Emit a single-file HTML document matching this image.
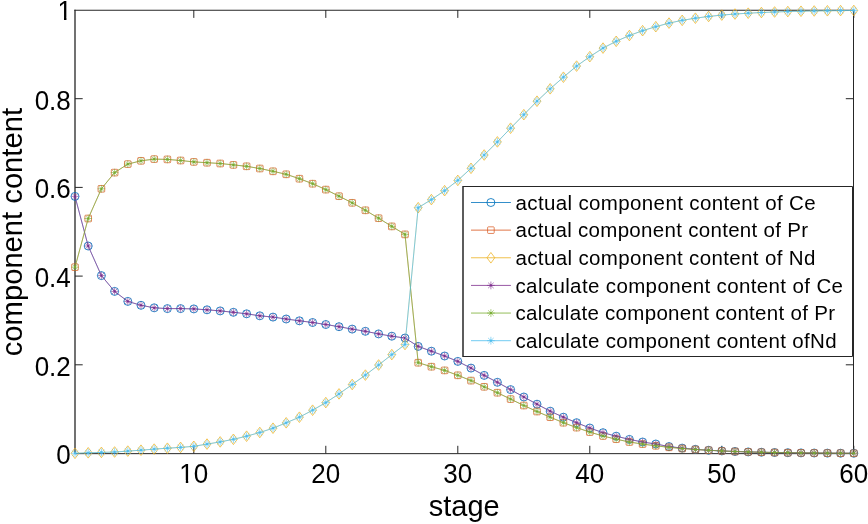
<!DOCTYPE html><html><head><meta charset="utf-8"><style>html,body{margin:0;padding:0;background:#fff;}svg{display:block;}</style></head><body><svg width="868" height="524" viewBox="0 0 868 524">
<rect width="868" height="524" fill="#fff"/>
<g stroke="#262626" stroke-width="1" fill="none">
<path d="M75 453.65H854M853.5 10V454"/>
<path d="M74.35 10.2H854" stroke-width="1.1"/>
<path d="M75 9.65V454" stroke-width="1.3"/>
<path d="M193.80 453.5V445.8M193.80 10V17.9"/>
<path d="M325.80 453.5V445.8M325.80 10V17.9"/>
<path d="M457.80 453.5V445.8M457.80 10V17.9"/>
<path d="M589.80 453.5V445.8M589.80 10V17.9"/>
<path d="M721.80 453.5V445.8M721.80 10V17.9"/>
<path d="M853.80 453.5V445.8M853.80 10V17.9"/>
<path d="M75 364.80H82.7M853.5 364.80H845.8"/>
<path d="M75 276.10H82.7M853.5 276.10H845.8"/>
<path d="M75 187.40H82.7M853.5 187.40H845.8"/>
<path d="M75 98.70H82.7M853.5 98.70H845.8"/>
</g>
<g style="filter:opacity(1)"><g font-family="Liberation Sans, sans-serif" font-size="26" fill="#000">
<text transform="translate(70.80 464.40) scale(1 1.05)" text-anchor="end">0</text>
<text transform="translate(70.80 375.70) scale(1 1.05)" text-anchor="end">0.2</text>
<text transform="translate(70.80 287.00) scale(1 1.05)" text-anchor="end">0.4</text>
<text transform="translate(70.80 198.30) scale(1 1.05)" text-anchor="end">0.6</text>
<text transform="translate(70.80 109.60) scale(1 1.05)" text-anchor="end">0.8</text>
<clipPath id="c1" clipPathUnits="userSpaceOnUse"><rect x="52.54" y="-19.80" width="24.46" height="37.66"/><rect x="64.03" y="16.86" width="2.40" height="5.04"/><rect x="71.50" y="-19.80" width="40" height="45"/></clipPath>
<g clip-path="url(#c1)"><text transform="translate(72.00 20.20) scale(1 1.05)" text-anchor="end">1</text></g>
<clipPath id="c10" clipPathUnits="userSpaceOnUse"><rect x="174.34" y="442.50" width="24.46" height="37.66"/><rect x="185.83" y="479.16" width="2.40" height="5.04"/><rect x="193.30" y="442.50" width="40" height="45"/></clipPath>
<g clip-path="url(#c10)"><text transform="translate(193.80 482.5) scale(1 1.05)" text-anchor="middle">10</text></g>
<text transform="translate(325.80 482.5) scale(1 1.05)" text-anchor="middle">20</text>
<text transform="translate(457.80 482.5) scale(1 1.05)" text-anchor="middle">30</text>
<text transform="translate(589.80 482.5) scale(1 1.05)" text-anchor="middle">40</text>
<text transform="translate(721.80 482.5) scale(1 1.05)" text-anchor="middle">50</text>
<text transform="translate(853.80 482.5) scale(1 1.05)" text-anchor="middle">60</text>
</g>
<text transform="translate(464.2 515.8) scale(1 1.035)" text-anchor="middle" font-family="Liberation Sans, sans-serif" font-size="29" fill="#000">stage</text>
<text transform="translate(21.5 232.1) rotate(-90)" text-anchor="middle" font-family="Liberation Sans, sans-serif" font-size="29.2" fill="#000">component content</text></g>
<polyline points="75.00,196.40 88.20,246.00 101.40,275.60 114.60,291.40 127.80,301.40 141.00,305.30 154.20,307.80 167.40,308.60 180.60,308.60 193.80,308.90 207.00,309.80 220.20,310.90 233.40,312.30 246.60,313.80 259.80,315.80 273.00,317.10 286.20,319.00 299.40,320.80 312.60,322.50 325.80,324.50 339.00,326.70 352.20,329.10 365.40,331.30 378.60,333.90 391.80,336.20 405.00,338.00 418.20,346.40 431.40,351.20 444.60,356.00 457.80,361.40 471.00,368.10 484.20,375.40 497.40,382.30 510.60,389.60 523.80,397.00 537.00,404.20 550.20,411.20 563.40,417.20 576.60,422.70 589.80,428.00 603.00,432.70 616.20,436.20 629.40,439.40 642.60,442.00 655.80,444.00 669.00,446.55 682.20,448.12 695.40,449.33 708.60,450.27 721.80,450.95 735.00,451.48 748.20,451.91 761.40,452.24 774.60,452.51 787.80,452.71 801.00,452.88 814.20,453.01 827.40,453.11 840.60,453.19 853.80,453.26" fill="none" stroke="#0072BD" stroke-width="0.5" stroke-opacity="0.75"/>
<circle cx="75.00" cy="196.40" r="4.0" fill="none" stroke="#0072BD" stroke-width="0.85"/>
<circle cx="88.20" cy="246.00" r="4.0" fill="none" stroke="#0072BD" stroke-width="0.85"/>
<circle cx="101.40" cy="275.60" r="4.0" fill="none" stroke="#0072BD" stroke-width="0.85"/>
<circle cx="114.60" cy="291.40" r="4.0" fill="none" stroke="#0072BD" stroke-width="0.85"/>
<circle cx="127.80" cy="301.40" r="4.0" fill="none" stroke="#0072BD" stroke-width="0.85"/>
<circle cx="141.00" cy="305.30" r="4.0" fill="none" stroke="#0072BD" stroke-width="0.85"/>
<circle cx="154.20" cy="307.80" r="4.0" fill="none" stroke="#0072BD" stroke-width="0.85"/>
<circle cx="167.40" cy="308.60" r="4.0" fill="none" stroke="#0072BD" stroke-width="0.85"/>
<circle cx="180.60" cy="308.60" r="4.0" fill="none" stroke="#0072BD" stroke-width="0.85"/>
<circle cx="193.80" cy="308.90" r="4.0" fill="none" stroke="#0072BD" stroke-width="0.85"/>
<circle cx="207.00" cy="309.80" r="4.0" fill="none" stroke="#0072BD" stroke-width="0.85"/>
<circle cx="220.20" cy="310.90" r="4.0" fill="none" stroke="#0072BD" stroke-width="0.85"/>
<circle cx="233.40" cy="312.30" r="4.0" fill="none" stroke="#0072BD" stroke-width="0.85"/>
<circle cx="246.60" cy="313.80" r="4.0" fill="none" stroke="#0072BD" stroke-width="0.85"/>
<circle cx="259.80" cy="315.80" r="4.0" fill="none" stroke="#0072BD" stroke-width="0.85"/>
<circle cx="273.00" cy="317.10" r="4.0" fill="none" stroke="#0072BD" stroke-width="0.85"/>
<circle cx="286.20" cy="319.00" r="4.0" fill="none" stroke="#0072BD" stroke-width="0.85"/>
<circle cx="299.40" cy="320.80" r="4.0" fill="none" stroke="#0072BD" stroke-width="0.85"/>
<circle cx="312.60" cy="322.50" r="4.0" fill="none" stroke="#0072BD" stroke-width="0.85"/>
<circle cx="325.80" cy="324.50" r="4.0" fill="none" stroke="#0072BD" stroke-width="0.85"/>
<circle cx="339.00" cy="326.70" r="4.0" fill="none" stroke="#0072BD" stroke-width="0.85"/>
<circle cx="352.20" cy="329.10" r="4.0" fill="none" stroke="#0072BD" stroke-width="0.85"/>
<circle cx="365.40" cy="331.30" r="4.0" fill="none" stroke="#0072BD" stroke-width="0.85"/>
<circle cx="378.60" cy="333.90" r="4.0" fill="none" stroke="#0072BD" stroke-width="0.85"/>
<circle cx="391.80" cy="336.20" r="4.0" fill="none" stroke="#0072BD" stroke-width="0.85"/>
<circle cx="405.00" cy="338.00" r="4.0" fill="none" stroke="#0072BD" stroke-width="0.85"/>
<circle cx="418.20" cy="346.40" r="4.0" fill="none" stroke="#0072BD" stroke-width="0.85"/>
<circle cx="431.40" cy="351.20" r="4.0" fill="none" stroke="#0072BD" stroke-width="0.85"/>
<circle cx="444.60" cy="356.00" r="4.0" fill="none" stroke="#0072BD" stroke-width="0.85"/>
<circle cx="457.80" cy="361.40" r="4.0" fill="none" stroke="#0072BD" stroke-width="0.85"/>
<circle cx="471.00" cy="368.10" r="4.0" fill="none" stroke="#0072BD" stroke-width="0.85"/>
<circle cx="484.20" cy="375.40" r="4.0" fill="none" stroke="#0072BD" stroke-width="0.85"/>
<circle cx="497.40" cy="382.30" r="4.0" fill="none" stroke="#0072BD" stroke-width="0.85"/>
<circle cx="510.60" cy="389.60" r="4.0" fill="none" stroke="#0072BD" stroke-width="0.85"/>
<circle cx="523.80" cy="397.00" r="4.0" fill="none" stroke="#0072BD" stroke-width="0.85"/>
<circle cx="537.00" cy="404.20" r="4.0" fill="none" stroke="#0072BD" stroke-width="0.85"/>
<circle cx="550.20" cy="411.20" r="4.0" fill="none" stroke="#0072BD" stroke-width="0.85"/>
<circle cx="563.40" cy="417.20" r="4.0" fill="none" stroke="#0072BD" stroke-width="0.85"/>
<circle cx="576.60" cy="422.70" r="4.0" fill="none" stroke="#0072BD" stroke-width="0.85"/>
<circle cx="589.80" cy="428.00" r="4.0" fill="none" stroke="#0072BD" stroke-width="0.85"/>
<circle cx="603.00" cy="432.70" r="4.0" fill="none" stroke="#0072BD" stroke-width="0.85"/>
<circle cx="616.20" cy="436.20" r="4.0" fill="none" stroke="#0072BD" stroke-width="0.85"/>
<circle cx="629.40" cy="439.40" r="4.0" fill="none" stroke="#0072BD" stroke-width="0.85"/>
<circle cx="642.60" cy="442.00" r="4.0" fill="none" stroke="#0072BD" stroke-width="0.85"/>
<circle cx="655.80" cy="444.00" r="4.0" fill="none" stroke="#0072BD" stroke-width="0.85"/>
<circle cx="669.00" cy="446.55" r="4.0" fill="none" stroke="#0072BD" stroke-width="0.85"/>
<circle cx="682.20" cy="448.12" r="4.0" fill="none" stroke="#0072BD" stroke-width="0.85"/>
<circle cx="695.40" cy="449.33" r="4.0" fill="none" stroke="#0072BD" stroke-width="0.85"/>
<circle cx="708.60" cy="450.27" r="4.0" fill="none" stroke="#0072BD" stroke-width="0.85"/>
<circle cx="721.80" cy="450.95" r="4.0" fill="none" stroke="#0072BD" stroke-width="0.85"/>
<circle cx="735.00" cy="451.48" r="4.0" fill="none" stroke="#0072BD" stroke-width="0.85"/>
<circle cx="748.20" cy="451.91" r="4.0" fill="none" stroke="#0072BD" stroke-width="0.85"/>
<circle cx="761.40" cy="452.24" r="4.0" fill="none" stroke="#0072BD" stroke-width="0.85"/>
<circle cx="774.60" cy="452.51" r="4.0" fill="none" stroke="#0072BD" stroke-width="0.85"/>
<circle cx="787.80" cy="452.71" r="4.0" fill="none" stroke="#0072BD" stroke-width="0.85"/>
<circle cx="801.00" cy="452.88" r="4.0" fill="none" stroke="#0072BD" stroke-width="0.85"/>
<circle cx="814.20" cy="453.01" r="4.0" fill="none" stroke="#0072BD" stroke-width="0.85"/>
<circle cx="827.40" cy="453.11" r="4.0" fill="none" stroke="#0072BD" stroke-width="0.85"/>
<circle cx="840.60" cy="453.19" r="4.0" fill="none" stroke="#0072BD" stroke-width="0.85"/>
<circle cx="853.80" cy="453.26" r="4.0" fill="none" stroke="#0072BD" stroke-width="0.85"/>
<polyline points="75.00,267.20 88.20,218.50 101.40,188.80 114.60,172.60 127.80,164.10 141.00,160.80 154.20,159.10 167.40,159.40 180.60,160.50 193.80,161.90 207.00,162.70 220.20,163.50 233.40,164.90 246.60,166.30 259.80,168.50 273.00,171.30 286.20,174.30 299.40,178.70 312.60,183.70 325.80,189.60 339.00,196.20 352.20,202.80 365.40,210.30 378.60,218.20 391.80,226.40 405.00,234.40 418.20,362.70 431.40,366.70 444.60,370.40 457.80,375.30 471.00,380.60 484.20,386.80 497.40,392.70 510.60,399.10 523.80,405.50 537.00,411.50 550.20,417.20 563.40,422.70 576.60,427.60 589.80,432.10 603.00,436.00 616.20,439.20 629.40,442.00 642.60,444.10 655.80,445.80 669.00,447.34 682.20,448.53 695.40,449.49 708.60,450.27 721.80,450.95 735.00,451.48 748.20,451.91 761.40,452.24 774.60,452.51 787.80,452.71 801.00,452.88 814.20,453.01 827.40,453.11 840.60,453.19 853.80,453.26" fill="none" stroke="#D95319" stroke-width="0.5" stroke-opacity="0.75"/>
<rect x="71.70" y="263.90" width="6.6" height="6.6" rx="0.8" fill="none" stroke="#D95319" stroke-width="0.7"/>
<rect x="84.90" y="215.20" width="6.6" height="6.6" rx="0.8" fill="none" stroke="#D95319" stroke-width="0.7"/>
<rect x="98.10" y="185.50" width="6.6" height="6.6" rx="0.8" fill="none" stroke="#D95319" stroke-width="0.7"/>
<rect x="111.30" y="169.30" width="6.6" height="6.6" rx="0.8" fill="none" stroke="#D95319" stroke-width="0.7"/>
<rect x="124.50" y="160.80" width="6.6" height="6.6" rx="0.8" fill="none" stroke="#D95319" stroke-width="0.7"/>
<rect x="137.70" y="157.50" width="6.6" height="6.6" rx="0.8" fill="none" stroke="#D95319" stroke-width="0.7"/>
<rect x="150.90" y="155.80" width="6.6" height="6.6" rx="0.8" fill="none" stroke="#D95319" stroke-width="0.7"/>
<rect x="164.10" y="156.10" width="6.6" height="6.6" rx="0.8" fill="none" stroke="#D95319" stroke-width="0.7"/>
<rect x="177.30" y="157.20" width="6.6" height="6.6" rx="0.8" fill="none" stroke="#D95319" stroke-width="0.7"/>
<rect x="190.50" y="158.60" width="6.6" height="6.6" rx="0.8" fill="none" stroke="#D95319" stroke-width="0.7"/>
<rect x="203.70" y="159.40" width="6.6" height="6.6" rx="0.8" fill="none" stroke="#D95319" stroke-width="0.7"/>
<rect x="216.90" y="160.20" width="6.6" height="6.6" rx="0.8" fill="none" stroke="#D95319" stroke-width="0.7"/>
<rect x="230.10" y="161.60" width="6.6" height="6.6" rx="0.8" fill="none" stroke="#D95319" stroke-width="0.7"/>
<rect x="243.30" y="163.00" width="6.6" height="6.6" rx="0.8" fill="none" stroke="#D95319" stroke-width="0.7"/>
<rect x="256.50" y="165.20" width="6.6" height="6.6" rx="0.8" fill="none" stroke="#D95319" stroke-width="0.7"/>
<rect x="269.70" y="168.00" width="6.6" height="6.6" rx="0.8" fill="none" stroke="#D95319" stroke-width="0.7"/>
<rect x="282.90" y="171.00" width="6.6" height="6.6" rx="0.8" fill="none" stroke="#D95319" stroke-width="0.7"/>
<rect x="296.10" y="175.40" width="6.6" height="6.6" rx="0.8" fill="none" stroke="#D95319" stroke-width="0.7"/>
<rect x="309.30" y="180.40" width="6.6" height="6.6" rx="0.8" fill="none" stroke="#D95319" stroke-width="0.7"/>
<rect x="322.50" y="186.30" width="6.6" height="6.6" rx="0.8" fill="none" stroke="#D95319" stroke-width="0.7"/>
<rect x="335.70" y="192.90" width="6.6" height="6.6" rx="0.8" fill="none" stroke="#D95319" stroke-width="0.7"/>
<rect x="348.90" y="199.50" width="6.6" height="6.6" rx="0.8" fill="none" stroke="#D95319" stroke-width="0.7"/>
<rect x="362.10" y="207.00" width="6.6" height="6.6" rx="0.8" fill="none" stroke="#D95319" stroke-width="0.7"/>
<rect x="375.30" y="214.90" width="6.6" height="6.6" rx="0.8" fill="none" stroke="#D95319" stroke-width="0.7"/>
<rect x="388.50" y="223.10" width="6.6" height="6.6" rx="0.8" fill="none" stroke="#D95319" stroke-width="0.7"/>
<rect x="401.70" y="231.10" width="6.6" height="6.6" rx="0.8" fill="none" stroke="#D95319" stroke-width="0.7"/>
<rect x="414.90" y="359.40" width="6.6" height="6.6" rx="0.8" fill="none" stroke="#D95319" stroke-width="0.7"/>
<rect x="428.10" y="363.40" width="6.6" height="6.6" rx="0.8" fill="none" stroke="#D95319" stroke-width="0.7"/>
<rect x="441.30" y="367.10" width="6.6" height="6.6" rx="0.8" fill="none" stroke="#D95319" stroke-width="0.7"/>
<rect x="454.50" y="372.00" width="6.6" height="6.6" rx="0.8" fill="none" stroke="#D95319" stroke-width="0.7"/>
<rect x="467.70" y="377.30" width="6.6" height="6.6" rx="0.8" fill="none" stroke="#D95319" stroke-width="0.7"/>
<rect x="480.90" y="383.50" width="6.6" height="6.6" rx="0.8" fill="none" stroke="#D95319" stroke-width="0.7"/>
<rect x="494.10" y="389.40" width="6.6" height="6.6" rx="0.8" fill="none" stroke="#D95319" stroke-width="0.7"/>
<rect x="507.30" y="395.80" width="6.6" height="6.6" rx="0.8" fill="none" stroke="#D95319" stroke-width="0.7"/>
<rect x="520.50" y="402.20" width="6.6" height="6.6" rx="0.8" fill="none" stroke="#D95319" stroke-width="0.7"/>
<rect x="533.70" y="408.20" width="6.6" height="6.6" rx="0.8" fill="none" stroke="#D95319" stroke-width="0.7"/>
<rect x="546.90" y="413.90" width="6.6" height="6.6" rx="0.8" fill="none" stroke="#D95319" stroke-width="0.7"/>
<rect x="560.10" y="419.40" width="6.6" height="6.6" rx="0.8" fill="none" stroke="#D95319" stroke-width="0.7"/>
<rect x="573.30" y="424.30" width="6.6" height="6.6" rx="0.8" fill="none" stroke="#D95319" stroke-width="0.7"/>
<rect x="586.50" y="428.80" width="6.6" height="6.6" rx="0.8" fill="none" stroke="#D95319" stroke-width="0.7"/>
<rect x="599.70" y="432.70" width="6.6" height="6.6" rx="0.8" fill="none" stroke="#D95319" stroke-width="0.7"/>
<rect x="612.90" y="435.90" width="6.6" height="6.6" rx="0.8" fill="none" stroke="#D95319" stroke-width="0.7"/>
<rect x="626.10" y="438.70" width="6.6" height="6.6" rx="0.8" fill="none" stroke="#D95319" stroke-width="0.7"/>
<rect x="639.30" y="440.80" width="6.6" height="6.6" rx="0.8" fill="none" stroke="#D95319" stroke-width="0.7"/>
<rect x="652.50" y="442.50" width="6.6" height="6.6" rx="0.8" fill="none" stroke="#D95319" stroke-width="0.7"/>
<rect x="665.70" y="444.04" width="6.6" height="6.6" rx="0.8" fill="none" stroke="#D95319" stroke-width="0.7"/>
<rect x="678.90" y="445.23" width="6.6" height="6.6" rx="0.8" fill="none" stroke="#D95319" stroke-width="0.7"/>
<rect x="692.10" y="446.19" width="6.6" height="6.6" rx="0.8" fill="none" stroke="#D95319" stroke-width="0.7"/>
<rect x="705.30" y="446.97" width="6.6" height="6.6" rx="0.8" fill="none" stroke="#D95319" stroke-width="0.7"/>
<rect x="718.50" y="447.65" width="6.6" height="6.6" rx="0.8" fill="none" stroke="#D95319" stroke-width="0.7"/>
<rect x="731.70" y="448.18" width="6.6" height="6.6" rx="0.8" fill="none" stroke="#D95319" stroke-width="0.7"/>
<rect x="744.90" y="448.61" width="6.6" height="6.6" rx="0.8" fill="none" stroke="#D95319" stroke-width="0.7"/>
<rect x="758.10" y="448.94" width="6.6" height="6.6" rx="0.8" fill="none" stroke="#D95319" stroke-width="0.7"/>
<rect x="771.30" y="449.21" width="6.6" height="6.6" rx="0.8" fill="none" stroke="#D95319" stroke-width="0.7"/>
<rect x="784.50" y="449.41" width="6.6" height="6.6" rx="0.8" fill="none" stroke="#D95319" stroke-width="0.7"/>
<rect x="797.70" y="449.58" width="6.6" height="6.6" rx="0.8" fill="none" stroke="#D95319" stroke-width="0.7"/>
<rect x="810.90" y="449.71" width="6.6" height="6.6" rx="0.8" fill="none" stroke="#D95319" stroke-width="0.7"/>
<rect x="824.10" y="449.81" width="6.6" height="6.6" rx="0.8" fill="none" stroke="#D95319" stroke-width="0.7"/>
<rect x="837.30" y="449.89" width="6.6" height="6.6" rx="0.8" fill="none" stroke="#D95319" stroke-width="0.7"/>
<rect x="850.50" y="449.96" width="6.6" height="6.6" rx="0.8" fill="none" stroke="#D95319" stroke-width="0.7"/>
<polyline points="75.00,453.30 88.20,452.80 101.40,452.40 114.60,452.00 127.80,451.10 141.00,450.20 154.20,449.10 167.40,448.20 180.60,447.40 193.80,446.30 207.00,444.10 220.20,441.90 233.40,439.30 246.60,436.20 259.80,432.50 273.00,428.20 286.20,422.80 299.40,417.20 312.60,410.20 325.80,402.60 339.00,393.90 352.20,384.50 365.40,375.10 378.60,365.00 391.80,354.60 405.00,344.50 418.20,207.70 431.40,199.60 444.60,190.70 457.80,180.40 471.00,168.30 484.20,155.00 497.40,141.90 510.60,128.20 523.80,114.70 537.00,101.20 550.20,88.80 563.40,77.20 576.60,66.10 589.80,56.70 603.00,48.10 616.20,41.30 629.40,35.50 642.60,30.70 655.80,26.70 669.00,23.11 682.20,20.35 695.40,18.18 708.60,16.46 721.80,15.10 735.00,14.03 748.20,13.19 761.40,12.52 774.60,11.99 787.80,11.57 801.00,11.24 814.20,10.98 827.40,10.77 840.60,10.61 853.80,10.48" fill="none" stroke="#EDB120" stroke-width="0.5" stroke-opacity="0.75"/>
<path d="M75.00 448.00L78.90 453.30L75.00 458.60L71.10 453.30Z" fill="none" stroke="#EDB120" stroke-width="0.75"/>
<path d="M88.20 447.50L92.10 452.80L88.20 458.10L84.30 452.80Z" fill="none" stroke="#EDB120" stroke-width="0.75"/>
<path d="M101.40 447.10L105.30 452.40L101.40 457.70L97.50 452.40Z" fill="none" stroke="#EDB120" stroke-width="0.75"/>
<path d="M114.60 446.70L118.50 452.00L114.60 457.30L110.70 452.00Z" fill="none" stroke="#EDB120" stroke-width="0.75"/>
<path d="M127.80 445.80L131.70 451.10L127.80 456.40L123.90 451.10Z" fill="none" stroke="#EDB120" stroke-width="0.75"/>
<path d="M141.00 444.90L144.90 450.20L141.00 455.50L137.10 450.20Z" fill="none" stroke="#EDB120" stroke-width="0.75"/>
<path d="M154.20 443.80L158.10 449.10L154.20 454.40L150.30 449.10Z" fill="none" stroke="#EDB120" stroke-width="0.75"/>
<path d="M167.40 442.90L171.30 448.20L167.40 453.50L163.50 448.20Z" fill="none" stroke="#EDB120" stroke-width="0.75"/>
<path d="M180.60 442.10L184.50 447.40L180.60 452.70L176.70 447.40Z" fill="none" stroke="#EDB120" stroke-width="0.75"/>
<path d="M193.80 441.00L197.70 446.30L193.80 451.60L189.90 446.30Z" fill="none" stroke="#EDB120" stroke-width="0.75"/>
<path d="M207.00 438.80L210.90 444.10L207.00 449.40L203.10 444.10Z" fill="none" stroke="#EDB120" stroke-width="0.75"/>
<path d="M220.20 436.60L224.10 441.90L220.20 447.20L216.30 441.90Z" fill="none" stroke="#EDB120" stroke-width="0.75"/>
<path d="M233.40 434.00L237.30 439.30L233.40 444.60L229.50 439.30Z" fill="none" stroke="#EDB120" stroke-width="0.75"/>
<path d="M246.60 430.90L250.50 436.20L246.60 441.50L242.70 436.20Z" fill="none" stroke="#EDB120" stroke-width="0.75"/>
<path d="M259.80 427.20L263.70 432.50L259.80 437.80L255.90 432.50Z" fill="none" stroke="#EDB120" stroke-width="0.75"/>
<path d="M273.00 422.90L276.90 428.20L273.00 433.50L269.10 428.20Z" fill="none" stroke="#EDB120" stroke-width="0.75"/>
<path d="M286.20 417.50L290.10 422.80L286.20 428.10L282.30 422.80Z" fill="none" stroke="#EDB120" stroke-width="0.75"/>
<path d="M299.40 411.90L303.30 417.20L299.40 422.50L295.50 417.20Z" fill="none" stroke="#EDB120" stroke-width="0.75"/>
<path d="M312.60 404.90L316.50 410.20L312.60 415.50L308.70 410.20Z" fill="none" stroke="#EDB120" stroke-width="0.75"/>
<path d="M325.80 397.30L329.70 402.60L325.80 407.90L321.90 402.60Z" fill="none" stroke="#EDB120" stroke-width="0.75"/>
<path d="M339.00 388.60L342.90 393.90L339.00 399.20L335.10 393.90Z" fill="none" stroke="#EDB120" stroke-width="0.75"/>
<path d="M352.20 379.20L356.10 384.50L352.20 389.80L348.30 384.50Z" fill="none" stroke="#EDB120" stroke-width="0.75"/>
<path d="M365.40 369.80L369.30 375.10L365.40 380.40L361.50 375.10Z" fill="none" stroke="#EDB120" stroke-width="0.75"/>
<path d="M378.60 359.70L382.50 365.00L378.60 370.30L374.70 365.00Z" fill="none" stroke="#EDB120" stroke-width="0.75"/>
<path d="M391.80 349.30L395.70 354.60L391.80 359.90L387.90 354.60Z" fill="none" stroke="#EDB120" stroke-width="0.75"/>
<path d="M405.00 339.20L408.90 344.50L405.00 349.80L401.10 344.50Z" fill="none" stroke="#EDB120" stroke-width="0.75"/>
<path d="M418.20 202.40L422.10 207.70L418.20 213.00L414.30 207.70Z" fill="none" stroke="#EDB120" stroke-width="0.75"/>
<path d="M431.40 194.30L435.30 199.60L431.40 204.90L427.50 199.60Z" fill="none" stroke="#EDB120" stroke-width="0.75"/>
<path d="M444.60 185.40L448.50 190.70L444.60 196.00L440.70 190.70Z" fill="none" stroke="#EDB120" stroke-width="0.75"/>
<path d="M457.80 175.10L461.70 180.40L457.80 185.70L453.90 180.40Z" fill="none" stroke="#EDB120" stroke-width="0.75"/>
<path d="M471.00 163.00L474.90 168.30L471.00 173.60L467.10 168.30Z" fill="none" stroke="#EDB120" stroke-width="0.75"/>
<path d="M484.20 149.70L488.10 155.00L484.20 160.30L480.30 155.00Z" fill="none" stroke="#EDB120" stroke-width="0.75"/>
<path d="M497.40 136.60L501.30 141.90L497.40 147.20L493.50 141.90Z" fill="none" stroke="#EDB120" stroke-width="0.75"/>
<path d="M510.60 122.90L514.50 128.20L510.60 133.50L506.70 128.20Z" fill="none" stroke="#EDB120" stroke-width="0.75"/>
<path d="M523.80 109.40L527.70 114.70L523.80 120.00L519.90 114.70Z" fill="none" stroke="#EDB120" stroke-width="0.75"/>
<path d="M537.00 95.90L540.90 101.20L537.00 106.50L533.10 101.20Z" fill="none" stroke="#EDB120" stroke-width="0.75"/>
<path d="M550.20 83.50L554.10 88.80L550.20 94.10L546.30 88.80Z" fill="none" stroke="#EDB120" stroke-width="0.75"/>
<path d="M563.40 71.90L567.30 77.20L563.40 82.50L559.50 77.20Z" fill="none" stroke="#EDB120" stroke-width="0.75"/>
<path d="M576.60 60.80L580.50 66.10L576.60 71.40L572.70 66.10Z" fill="none" stroke="#EDB120" stroke-width="0.75"/>
<path d="M589.80 51.40L593.70 56.70L589.80 62.00L585.90 56.70Z" fill="none" stroke="#EDB120" stroke-width="0.75"/>
<path d="M603.00 42.80L606.90 48.10L603.00 53.40L599.10 48.10Z" fill="none" stroke="#EDB120" stroke-width="0.75"/>
<path d="M616.20 36.00L620.10 41.30L616.20 46.60L612.30 41.30Z" fill="none" stroke="#EDB120" stroke-width="0.75"/>
<path d="M629.40 30.20L633.30 35.50L629.40 40.80L625.50 35.50Z" fill="none" stroke="#EDB120" stroke-width="0.75"/>
<path d="M642.60 25.40L646.50 30.70L642.60 36.00L638.70 30.70Z" fill="none" stroke="#EDB120" stroke-width="0.75"/>
<path d="M655.80 21.40L659.70 26.70L655.80 32.00L651.90 26.70Z" fill="none" stroke="#EDB120" stroke-width="0.75"/>
<path d="M669.00 17.81L672.90 23.11L669.00 28.41L665.10 23.11Z" fill="none" stroke="#EDB120" stroke-width="0.75"/>
<path d="M682.20 15.05L686.10 20.35L682.20 25.65L678.30 20.35Z" fill="none" stroke="#EDB120" stroke-width="0.75"/>
<path d="M695.40 12.88L699.30 18.18L695.40 23.48L691.50 18.18Z" fill="none" stroke="#EDB120" stroke-width="0.75"/>
<path d="M708.60 11.16L712.50 16.46L708.60 21.76L704.70 16.46Z" fill="none" stroke="#EDB120" stroke-width="0.75"/>
<path d="M721.80 9.80L725.70 15.10L721.80 20.40L717.90 15.10Z" fill="none" stroke="#EDB120" stroke-width="0.75"/>
<path d="M735.00 8.73L738.90 14.03L735.00 19.33L731.10 14.03Z" fill="none" stroke="#EDB120" stroke-width="0.75"/>
<path d="M748.20 7.89L752.10 13.19L748.20 18.49L744.30 13.19Z" fill="none" stroke="#EDB120" stroke-width="0.75"/>
<path d="M761.40 7.22L765.30 12.52L761.40 17.82L757.50 12.52Z" fill="none" stroke="#EDB120" stroke-width="0.75"/>
<path d="M774.60 6.69L778.50 11.99L774.60 17.29L770.70 11.99Z" fill="none" stroke="#EDB120" stroke-width="0.75"/>
<path d="M787.80 6.27L791.70 11.57L787.80 16.87L783.90 11.57Z" fill="none" stroke="#EDB120" stroke-width="0.75"/>
<path d="M801.00 5.94L804.90 11.24L801.00 16.54L797.10 11.24Z" fill="none" stroke="#EDB120" stroke-width="0.75"/>
<path d="M814.20 5.68L818.10 10.98L814.20 16.28L810.30 10.98Z" fill="none" stroke="#EDB120" stroke-width="0.75"/>
<path d="M827.40 5.47L831.30 10.77L827.40 16.07L823.50 10.77Z" fill="none" stroke="#EDB120" stroke-width="0.75"/>
<path d="M840.60 5.31L844.50 10.61L840.60 15.91L836.70 10.61Z" fill="none" stroke="#EDB120" stroke-width="0.75"/>
<path d="M853.80 5.18L857.70 10.48L853.80 15.78L849.90 10.48Z" fill="none" stroke="#EDB120" stroke-width="0.75"/>
<polyline points="75.00,196.40 88.20,246.00 101.40,275.60 114.60,291.40 127.80,301.40 141.00,305.30 154.20,307.80 167.40,308.60 180.60,308.60 193.80,308.90 207.00,309.80 220.20,310.90 233.40,312.30 246.60,313.80 259.80,315.80 273.00,317.10 286.20,319.00 299.40,320.80 312.60,322.50 325.80,324.50 339.00,326.70 352.20,329.10 365.40,331.30 378.60,333.90 391.80,336.20 405.00,338.00 418.20,346.40 431.40,351.20 444.60,356.00 457.80,361.40 471.00,368.10 484.20,375.40 497.40,382.30 510.60,389.60 523.80,397.00 537.00,404.20 550.20,411.20 563.40,417.20 576.60,422.70 589.80,428.00 603.00,432.70 616.20,436.20 629.40,439.40 642.60,442.00 655.80,444.00 669.00,446.55 682.20,448.12 695.40,449.33 708.60,450.27 721.80,450.95 735.00,451.48 748.20,451.91 761.40,452.24 774.60,452.51 787.80,452.71 801.00,452.88 814.20,453.01 827.40,453.11 840.60,453.19 853.80,453.26" fill="none" stroke="#7E2F8E" stroke-width="0.7"/>
<path d="M71.10 196.40H78.90M75.00 192.50V200.30M72.24 193.64L77.76 199.16M72.24 199.16L77.76 193.64" stroke="#7E2F8E" stroke-width="0.6" fill="none"/><circle cx="75.00" cy="196.40" r="1.1" fill="#7E2F8E"/>
<path d="M84.30 246.00H92.10M88.20 242.10V249.90M85.44 243.24L90.96 248.76M85.44 248.76L90.96 243.24" stroke="#7E2F8E" stroke-width="0.6" fill="none"/><circle cx="88.20" cy="246.00" r="1.1" fill="#7E2F8E"/>
<path d="M97.50 275.60H105.30M101.40 271.70V279.50M98.64 272.84L104.16 278.36M98.64 278.36L104.16 272.84" stroke="#7E2F8E" stroke-width="0.6" fill="none"/><circle cx="101.40" cy="275.60" r="1.1" fill="#7E2F8E"/>
<path d="M110.70 291.40H118.50M114.60 287.50V295.30M111.84 288.64L117.36 294.16M111.84 294.16L117.36 288.64" stroke="#7E2F8E" stroke-width="0.6" fill="none"/><circle cx="114.60" cy="291.40" r="1.1" fill="#7E2F8E"/>
<path d="M123.90 301.40H131.70M127.80 297.50V305.30M125.04 298.64L130.56 304.16M125.04 304.16L130.56 298.64" stroke="#7E2F8E" stroke-width="0.6" fill="none"/><circle cx="127.80" cy="301.40" r="1.1" fill="#7E2F8E"/>
<path d="M137.10 305.30H144.90M141.00 301.40V309.20M138.24 302.54L143.76 308.06M138.24 308.06L143.76 302.54" stroke="#7E2F8E" stroke-width="0.6" fill="none"/><circle cx="141.00" cy="305.30" r="1.1" fill="#7E2F8E"/>
<path d="M150.30 307.80H158.10M154.20 303.90V311.70M151.44 305.04L156.96 310.56M151.44 310.56L156.96 305.04" stroke="#7E2F8E" stroke-width="0.6" fill="none"/><circle cx="154.20" cy="307.80" r="1.1" fill="#7E2F8E"/>
<path d="M163.50 308.60H171.30M167.40 304.70V312.50M164.64 305.84L170.16 311.36M164.64 311.36L170.16 305.84" stroke="#7E2F8E" stroke-width="0.6" fill="none"/><circle cx="167.40" cy="308.60" r="1.1" fill="#7E2F8E"/>
<path d="M176.70 308.60H184.50M180.60 304.70V312.50M177.84 305.84L183.36 311.36M177.84 311.36L183.36 305.84" stroke="#7E2F8E" stroke-width="0.6" fill="none"/><circle cx="180.60" cy="308.60" r="1.1" fill="#7E2F8E"/>
<path d="M189.90 308.90H197.70M193.80 305.00V312.80M191.04 306.14L196.56 311.66M191.04 311.66L196.56 306.14" stroke="#7E2F8E" stroke-width="0.6" fill="none"/><circle cx="193.80" cy="308.90" r="1.1" fill="#7E2F8E"/>
<path d="M203.10 309.80H210.90M207.00 305.90V313.70M204.24 307.04L209.76 312.56M204.24 312.56L209.76 307.04" stroke="#7E2F8E" stroke-width="0.6" fill="none"/><circle cx="207.00" cy="309.80" r="1.1" fill="#7E2F8E"/>
<path d="M216.30 310.90H224.10M220.20 307.00V314.80M217.44 308.14L222.96 313.66M217.44 313.66L222.96 308.14" stroke="#7E2F8E" stroke-width="0.6" fill="none"/><circle cx="220.20" cy="310.90" r="1.1" fill="#7E2F8E"/>
<path d="M229.50 312.30H237.30M233.40 308.40V316.20M230.64 309.54L236.16 315.06M230.64 315.06L236.16 309.54" stroke="#7E2F8E" stroke-width="0.6" fill="none"/><circle cx="233.40" cy="312.30" r="1.1" fill="#7E2F8E"/>
<path d="M242.70 313.80H250.50M246.60 309.90V317.70M243.84 311.04L249.36 316.56M243.84 316.56L249.36 311.04" stroke="#7E2F8E" stroke-width="0.6" fill="none"/><circle cx="246.60" cy="313.80" r="1.1" fill="#7E2F8E"/>
<path d="M255.90 315.80H263.70M259.80 311.90V319.70M257.04 313.04L262.56 318.56M257.04 318.56L262.56 313.04" stroke="#7E2F8E" stroke-width="0.6" fill="none"/><circle cx="259.80" cy="315.80" r="1.1" fill="#7E2F8E"/>
<path d="M269.10 317.10H276.90M273.00 313.20V321.00M270.24 314.34L275.76 319.86M270.24 319.86L275.76 314.34" stroke="#7E2F8E" stroke-width="0.6" fill="none"/><circle cx="273.00" cy="317.10" r="1.1" fill="#7E2F8E"/>
<path d="M282.30 319.00H290.10M286.20 315.10V322.90M283.44 316.24L288.96 321.76M283.44 321.76L288.96 316.24" stroke="#7E2F8E" stroke-width="0.6" fill="none"/><circle cx="286.20" cy="319.00" r="1.1" fill="#7E2F8E"/>
<path d="M295.50 320.80H303.30M299.40 316.90V324.70M296.64 318.04L302.16 323.56M296.64 323.56L302.16 318.04" stroke="#7E2F8E" stroke-width="0.6" fill="none"/><circle cx="299.40" cy="320.80" r="1.1" fill="#7E2F8E"/>
<path d="M308.70 322.50H316.50M312.60 318.60V326.40M309.84 319.74L315.36 325.26M309.84 325.26L315.36 319.74" stroke="#7E2F8E" stroke-width="0.6" fill="none"/><circle cx="312.60" cy="322.50" r="1.1" fill="#7E2F8E"/>
<path d="M321.90 324.50H329.70M325.80 320.60V328.40M323.04 321.74L328.56 327.26M323.04 327.26L328.56 321.74" stroke="#7E2F8E" stroke-width="0.6" fill="none"/><circle cx="325.80" cy="324.50" r="1.1" fill="#7E2F8E"/>
<path d="M335.10 326.70H342.90M339.00 322.80V330.60M336.24 323.94L341.76 329.46M336.24 329.46L341.76 323.94" stroke="#7E2F8E" stroke-width="0.6" fill="none"/><circle cx="339.00" cy="326.70" r="1.1" fill="#7E2F8E"/>
<path d="M348.30 329.10H356.10M352.20 325.20V333.00M349.44 326.34L354.96 331.86M349.44 331.86L354.96 326.34" stroke="#7E2F8E" stroke-width="0.6" fill="none"/><circle cx="352.20" cy="329.10" r="1.1" fill="#7E2F8E"/>
<path d="M361.50 331.30H369.30M365.40 327.40V335.20M362.64 328.54L368.16 334.06M362.64 334.06L368.16 328.54" stroke="#7E2F8E" stroke-width="0.6" fill="none"/><circle cx="365.40" cy="331.30" r="1.1" fill="#7E2F8E"/>
<path d="M374.70 333.90H382.50M378.60 330.00V337.80M375.84 331.14L381.36 336.66M375.84 336.66L381.36 331.14" stroke="#7E2F8E" stroke-width="0.6" fill="none"/><circle cx="378.60" cy="333.90" r="1.1" fill="#7E2F8E"/>
<path d="M387.90 336.20H395.70M391.80 332.30V340.10M389.04 333.44L394.56 338.96M389.04 338.96L394.56 333.44" stroke="#7E2F8E" stroke-width="0.6" fill="none"/><circle cx="391.80" cy="336.20" r="1.1" fill="#7E2F8E"/>
<path d="M401.10 338.00H408.90M405.00 334.10V341.90M402.24 335.24L407.76 340.76M402.24 340.76L407.76 335.24" stroke="#7E2F8E" stroke-width="0.6" fill="none"/><circle cx="405.00" cy="338.00" r="1.1" fill="#7E2F8E"/>
<path d="M414.30 346.40H422.10M418.20 342.50V350.30M415.44 343.64L420.96 349.16M415.44 349.16L420.96 343.64" stroke="#7E2F8E" stroke-width="0.6" fill="none"/><circle cx="418.20" cy="346.40" r="1.1" fill="#7E2F8E"/>
<path d="M427.50 351.20H435.30M431.40 347.30V355.10M428.64 348.44L434.16 353.96M428.64 353.96L434.16 348.44" stroke="#7E2F8E" stroke-width="0.6" fill="none"/><circle cx="431.40" cy="351.20" r="1.1" fill="#7E2F8E"/>
<path d="M440.70 356.00H448.50M444.60 352.10V359.90M441.84 353.24L447.36 358.76M441.84 358.76L447.36 353.24" stroke="#7E2F8E" stroke-width="0.6" fill="none"/><circle cx="444.60" cy="356.00" r="1.1" fill="#7E2F8E"/>
<path d="M453.90 361.40H461.70M457.80 357.50V365.30M455.04 358.64L460.56 364.16M455.04 364.16L460.56 358.64" stroke="#7E2F8E" stroke-width="0.6" fill="none"/><circle cx="457.80" cy="361.40" r="1.1" fill="#7E2F8E"/>
<path d="M467.10 368.10H474.90M471.00 364.20V372.00M468.24 365.34L473.76 370.86M468.24 370.86L473.76 365.34" stroke="#7E2F8E" stroke-width="0.6" fill="none"/><circle cx="471.00" cy="368.10" r="1.1" fill="#7E2F8E"/>
<path d="M480.30 375.40H488.10M484.20 371.50V379.30M481.44 372.64L486.96 378.16M481.44 378.16L486.96 372.64" stroke="#7E2F8E" stroke-width="0.6" fill="none"/><circle cx="484.20" cy="375.40" r="1.1" fill="#7E2F8E"/>
<path d="M493.50 382.30H501.30M497.40 378.40V386.20M494.64 379.54L500.16 385.06M494.64 385.06L500.16 379.54" stroke="#7E2F8E" stroke-width="0.6" fill="none"/><circle cx="497.40" cy="382.30" r="1.1" fill="#7E2F8E"/>
<path d="M506.70 389.60H514.50M510.60 385.70V393.50M507.84 386.84L513.36 392.36M507.84 392.36L513.36 386.84" stroke="#7E2F8E" stroke-width="0.6" fill="none"/><circle cx="510.60" cy="389.60" r="1.1" fill="#7E2F8E"/>
<path d="M519.90 397.00H527.70M523.80 393.10V400.90M521.04 394.24L526.56 399.76M521.04 399.76L526.56 394.24" stroke="#7E2F8E" stroke-width="0.6" fill="none"/><circle cx="523.80" cy="397.00" r="1.1" fill="#7E2F8E"/>
<path d="M533.10 404.20H540.90M537.00 400.30V408.10M534.24 401.44L539.76 406.96M534.24 406.96L539.76 401.44" stroke="#7E2F8E" stroke-width="0.6" fill="none"/><circle cx="537.00" cy="404.20" r="1.1" fill="#7E2F8E"/>
<path d="M546.30 411.20H554.10M550.20 407.30V415.10M547.44 408.44L552.96 413.96M547.44 413.96L552.96 408.44" stroke="#7E2F8E" stroke-width="0.6" fill="none"/><circle cx="550.20" cy="411.20" r="1.1" fill="#7E2F8E"/>
<path d="M559.50 417.20H567.30M563.40 413.30V421.10M560.64 414.44L566.16 419.96M560.64 419.96L566.16 414.44" stroke="#7E2F8E" stroke-width="0.6" fill="none"/><circle cx="563.40" cy="417.20" r="1.1" fill="#7E2F8E"/>
<path d="M572.70 422.70H580.50M576.60 418.80V426.60M573.84 419.94L579.36 425.46M573.84 425.46L579.36 419.94" stroke="#7E2F8E" stroke-width="0.6" fill="none"/><circle cx="576.60" cy="422.70" r="1.1" fill="#7E2F8E"/>
<path d="M585.90 428.00H593.70M589.80 424.10V431.90M587.04 425.24L592.56 430.76M587.04 430.76L592.56 425.24" stroke="#7E2F8E" stroke-width="0.6" fill="none"/><circle cx="589.80" cy="428.00" r="1.1" fill="#7E2F8E"/>
<path d="M599.10 432.70H606.90M603.00 428.80V436.60M600.24 429.94L605.76 435.46M600.24 435.46L605.76 429.94" stroke="#7E2F8E" stroke-width="0.6" fill="none"/><circle cx="603.00" cy="432.70" r="1.1" fill="#7E2F8E"/>
<path d="M612.30 436.20H620.10M616.20 432.30V440.10M613.44 433.44L618.96 438.96M613.44 438.96L618.96 433.44" stroke="#7E2F8E" stroke-width="0.6" fill="none"/><circle cx="616.20" cy="436.20" r="1.1" fill="#7E2F8E"/>
<path d="M625.50 439.40H633.30M629.40 435.50V443.30M626.64 436.64L632.16 442.16M626.64 442.16L632.16 436.64" stroke="#7E2F8E" stroke-width="0.6" fill="none"/><circle cx="629.40" cy="439.40" r="1.1" fill="#7E2F8E"/>
<path d="M638.70 442.00H646.50M642.60 438.10V445.90M639.84 439.24L645.36 444.76M639.84 444.76L645.36 439.24" stroke="#7E2F8E" stroke-width="0.6" fill="none"/><circle cx="642.60" cy="442.00" r="1.1" fill="#7E2F8E"/>
<path d="M651.90 444.00H659.70M655.80 440.10V447.90M653.04 441.24L658.56 446.76M653.04 446.76L658.56 441.24" stroke="#7E2F8E" stroke-width="0.6" fill="none"/><circle cx="655.80" cy="444.00" r="1.1" fill="#7E2F8E"/>
<path d="M665.10 446.55H672.90M669.00 442.65V450.45M666.24 443.80L671.76 449.31M666.24 449.31L671.76 443.80" stroke="#7E2F8E" stroke-width="0.6" fill="none"/><circle cx="669.00" cy="446.55" r="1.1" fill="#7E2F8E"/>
<path d="M678.30 448.12H686.10M682.20 444.22V452.02M679.44 445.36L684.96 450.87M679.44 450.87L684.96 445.36" stroke="#7E2F8E" stroke-width="0.6" fill="none"/><circle cx="682.20" cy="448.12" r="1.1" fill="#7E2F8E"/>
<path d="M691.50 449.33H699.30M695.40 445.43V453.23M692.64 446.57L698.16 452.09M692.64 452.09L698.16 446.57" stroke="#7E2F8E" stroke-width="0.6" fill="none"/><circle cx="695.40" cy="449.33" r="1.1" fill="#7E2F8E"/>
<path d="M704.70 450.27H712.50M708.60 446.37V454.17M705.84 447.51L711.36 453.03M705.84 453.03L711.36 447.51" stroke="#7E2F8E" stroke-width="0.6" fill="none"/><circle cx="708.60" cy="450.27" r="1.1" fill="#7E2F8E"/>
<path d="M717.90 450.95H725.70M721.80 447.05V454.85M719.04 448.19L724.56 453.71M719.04 453.71L724.56 448.19" stroke="#7E2F8E" stroke-width="0.6" fill="none"/><circle cx="721.80" cy="450.95" r="1.1" fill="#7E2F8E"/>
<path d="M731.10 451.48H738.90M735.00 447.58V455.38M732.24 448.73L737.76 454.24M732.24 454.24L737.76 448.73" stroke="#7E2F8E" stroke-width="0.6" fill="none"/><circle cx="735.00" cy="451.48" r="1.1" fill="#7E2F8E"/>
<path d="M744.30 451.91H752.10M748.20 448.01V455.81M745.44 449.15L750.96 454.66M745.44 454.66L750.96 449.15" stroke="#7E2F8E" stroke-width="0.6" fill="none"/><circle cx="748.20" cy="451.91" r="1.1" fill="#7E2F8E"/>
<path d="M757.50 452.24H765.30M761.40 448.34V456.14M758.64 449.48L764.16 455.00M758.64 455.00L764.16 449.48" stroke="#7E2F8E" stroke-width="0.6" fill="none"/><circle cx="761.40" cy="452.24" r="1.1" fill="#7E2F8E"/>
<path d="M770.70 452.51H778.50M774.60 448.61V456.41M771.84 449.75L777.36 455.26M771.84 455.26L777.36 449.75" stroke="#7E2F8E" stroke-width="0.6" fill="none"/><circle cx="774.60" cy="452.51" r="1.1" fill="#7E2F8E"/>
<path d="M783.90 452.71H791.70M787.80 448.81V456.61M785.04 449.96L790.56 455.47M785.04 455.47L790.56 449.96" stroke="#7E2F8E" stroke-width="0.6" fill="none"/><circle cx="787.80" cy="452.71" r="1.1" fill="#7E2F8E"/>
<path d="M797.10 452.88H804.90M801.00 448.98V456.78M798.24 450.12L803.76 455.64M798.24 455.64L803.76 450.12" stroke="#7E2F8E" stroke-width="0.6" fill="none"/><circle cx="801.00" cy="452.88" r="1.1" fill="#7E2F8E"/>
<path d="M810.30 453.01H818.10M814.20 449.11V456.91M811.44 450.25L816.96 455.77M811.44 455.77L816.96 450.25" stroke="#7E2F8E" stroke-width="0.6" fill="none"/><circle cx="814.20" cy="453.01" r="1.1" fill="#7E2F8E"/>
<path d="M823.50 453.11H831.30M827.40 449.21V457.01M824.64 450.36L830.16 455.87M824.64 455.87L830.16 450.36" stroke="#7E2F8E" stroke-width="0.6" fill="none"/><circle cx="827.40" cy="453.11" r="1.1" fill="#7E2F8E"/>
<path d="M836.70 453.19H844.50M840.60 449.29V457.09M837.84 450.44L843.36 455.95M837.84 455.95L843.36 450.44" stroke="#7E2F8E" stroke-width="0.6" fill="none"/><circle cx="840.60" cy="453.19" r="1.1" fill="#7E2F8E"/>
<path d="M849.90 453.26H857.70M853.80 449.36V457.16M851.04 450.50L856.56 456.02M851.04 456.02L856.56 450.50" stroke="#7E2F8E" stroke-width="0.6" fill="none"/><circle cx="853.80" cy="453.26" r="1.1" fill="#7E2F8E"/>
<polyline points="75.00,267.20 88.20,218.50 101.40,188.80 114.60,172.60 127.80,164.10 141.00,160.80 154.20,159.10 167.40,159.40 180.60,160.50 193.80,161.90 207.00,162.70 220.20,163.50 233.40,164.90 246.60,166.30 259.80,168.50 273.00,171.30 286.20,174.30 299.40,178.70 312.60,183.70 325.80,189.60 339.00,196.20 352.20,202.80 365.40,210.30 378.60,218.20 391.80,226.40 405.00,234.40 418.20,362.70 431.40,366.70 444.60,370.40 457.80,375.30 471.00,380.60 484.20,386.80 497.40,392.70 510.60,399.10 523.80,405.50 537.00,411.50 550.20,417.20 563.40,422.70 576.60,427.60 589.80,432.10 603.00,436.00 616.20,439.20 629.40,442.00 642.60,444.10 655.80,445.80 669.00,447.34 682.20,448.53 695.40,449.49 708.60,450.27 721.80,450.95 735.00,451.48 748.20,451.91 761.40,452.24 774.60,452.51 787.80,452.71 801.00,452.88 814.20,453.01 827.40,453.11 840.60,453.19 853.80,453.26" fill="none" stroke="#77AC30" stroke-width="0.7"/>
<path d="M71.10 267.20H78.90M75.00 263.30V271.10M72.24 264.44L77.76 269.96M72.24 269.96L77.76 264.44" stroke="#77AC30" stroke-width="0.6" fill="none"/><circle cx="75.00" cy="267.20" r="1.1" fill="#77AC30"/>
<path d="M84.30 218.50H92.10M88.20 214.60V222.40M85.44 215.74L90.96 221.26M85.44 221.26L90.96 215.74" stroke="#77AC30" stroke-width="0.6" fill="none"/><circle cx="88.20" cy="218.50" r="1.1" fill="#77AC30"/>
<path d="M97.50 188.80H105.30M101.40 184.90V192.70M98.64 186.04L104.16 191.56M98.64 191.56L104.16 186.04" stroke="#77AC30" stroke-width="0.6" fill="none"/><circle cx="101.40" cy="188.80" r="1.1" fill="#77AC30"/>
<path d="M110.70 172.60H118.50M114.60 168.70V176.50M111.84 169.84L117.36 175.36M111.84 175.36L117.36 169.84" stroke="#77AC30" stroke-width="0.6" fill="none"/><circle cx="114.60" cy="172.60" r="1.1" fill="#77AC30"/>
<path d="M123.90 164.10H131.70M127.80 160.20V168.00M125.04 161.34L130.56 166.86M125.04 166.86L130.56 161.34" stroke="#77AC30" stroke-width="0.6" fill="none"/><circle cx="127.80" cy="164.10" r="1.1" fill="#77AC30"/>
<path d="M137.10 160.80H144.90M141.00 156.90V164.70M138.24 158.04L143.76 163.56M138.24 163.56L143.76 158.04" stroke="#77AC30" stroke-width="0.6" fill="none"/><circle cx="141.00" cy="160.80" r="1.1" fill="#77AC30"/>
<path d="M150.30 159.10H158.10M154.20 155.20V163.00M151.44 156.34L156.96 161.86M151.44 161.86L156.96 156.34" stroke="#77AC30" stroke-width="0.6" fill="none"/><circle cx="154.20" cy="159.10" r="1.1" fill="#77AC30"/>
<path d="M163.50 159.40H171.30M167.40 155.50V163.30M164.64 156.64L170.16 162.16M164.64 162.16L170.16 156.64" stroke="#77AC30" stroke-width="0.6" fill="none"/><circle cx="167.40" cy="159.40" r="1.1" fill="#77AC30"/>
<path d="M176.70 160.50H184.50M180.60 156.60V164.40M177.84 157.74L183.36 163.26M177.84 163.26L183.36 157.74" stroke="#77AC30" stroke-width="0.6" fill="none"/><circle cx="180.60" cy="160.50" r="1.1" fill="#77AC30"/>
<path d="M189.90 161.90H197.70M193.80 158.00V165.80M191.04 159.14L196.56 164.66M191.04 164.66L196.56 159.14" stroke="#77AC30" stroke-width="0.6" fill="none"/><circle cx="193.80" cy="161.90" r="1.1" fill="#77AC30"/>
<path d="M203.10 162.70H210.90M207.00 158.80V166.60M204.24 159.94L209.76 165.46M204.24 165.46L209.76 159.94" stroke="#77AC30" stroke-width="0.6" fill="none"/><circle cx="207.00" cy="162.70" r="1.1" fill="#77AC30"/>
<path d="M216.30 163.50H224.10M220.20 159.60V167.40M217.44 160.74L222.96 166.26M217.44 166.26L222.96 160.74" stroke="#77AC30" stroke-width="0.6" fill="none"/><circle cx="220.20" cy="163.50" r="1.1" fill="#77AC30"/>
<path d="M229.50 164.90H237.30M233.40 161.00V168.80M230.64 162.14L236.16 167.66M230.64 167.66L236.16 162.14" stroke="#77AC30" stroke-width="0.6" fill="none"/><circle cx="233.40" cy="164.90" r="1.1" fill="#77AC30"/>
<path d="M242.70 166.30H250.50M246.60 162.40V170.20M243.84 163.54L249.36 169.06M243.84 169.06L249.36 163.54" stroke="#77AC30" stroke-width="0.6" fill="none"/><circle cx="246.60" cy="166.30" r="1.1" fill="#77AC30"/>
<path d="M255.90 168.50H263.70M259.80 164.60V172.40M257.04 165.74L262.56 171.26M257.04 171.26L262.56 165.74" stroke="#77AC30" stroke-width="0.6" fill="none"/><circle cx="259.80" cy="168.50" r="1.1" fill="#77AC30"/>
<path d="M269.10 171.30H276.90M273.00 167.40V175.20M270.24 168.54L275.76 174.06M270.24 174.06L275.76 168.54" stroke="#77AC30" stroke-width="0.6" fill="none"/><circle cx="273.00" cy="171.30" r="1.1" fill="#77AC30"/>
<path d="M282.30 174.30H290.10M286.20 170.40V178.20M283.44 171.54L288.96 177.06M283.44 177.06L288.96 171.54" stroke="#77AC30" stroke-width="0.6" fill="none"/><circle cx="286.20" cy="174.30" r="1.1" fill="#77AC30"/>
<path d="M295.50 178.70H303.30M299.40 174.80V182.60M296.64 175.94L302.16 181.46M296.64 181.46L302.16 175.94" stroke="#77AC30" stroke-width="0.6" fill="none"/><circle cx="299.40" cy="178.70" r="1.1" fill="#77AC30"/>
<path d="M308.70 183.70H316.50M312.60 179.80V187.60M309.84 180.94L315.36 186.46M309.84 186.46L315.36 180.94" stroke="#77AC30" stroke-width="0.6" fill="none"/><circle cx="312.60" cy="183.70" r="1.1" fill="#77AC30"/>
<path d="M321.90 189.60H329.70M325.80 185.70V193.50M323.04 186.84L328.56 192.36M323.04 192.36L328.56 186.84" stroke="#77AC30" stroke-width="0.6" fill="none"/><circle cx="325.80" cy="189.60" r="1.1" fill="#77AC30"/>
<path d="M335.10 196.20H342.90M339.00 192.30V200.10M336.24 193.44L341.76 198.96M336.24 198.96L341.76 193.44" stroke="#77AC30" stroke-width="0.6" fill="none"/><circle cx="339.00" cy="196.20" r="1.1" fill="#77AC30"/>
<path d="M348.30 202.80H356.10M352.20 198.90V206.70M349.44 200.04L354.96 205.56M349.44 205.56L354.96 200.04" stroke="#77AC30" stroke-width="0.6" fill="none"/><circle cx="352.20" cy="202.80" r="1.1" fill="#77AC30"/>
<path d="M361.50 210.30H369.30M365.40 206.40V214.20M362.64 207.54L368.16 213.06M362.64 213.06L368.16 207.54" stroke="#77AC30" stroke-width="0.6" fill="none"/><circle cx="365.40" cy="210.30" r="1.1" fill="#77AC30"/>
<path d="M374.70 218.20H382.50M378.60 214.30V222.10M375.84 215.44L381.36 220.96M375.84 220.96L381.36 215.44" stroke="#77AC30" stroke-width="0.6" fill="none"/><circle cx="378.60" cy="218.20" r="1.1" fill="#77AC30"/>
<path d="M387.90 226.40H395.70M391.80 222.50V230.30M389.04 223.64L394.56 229.16M389.04 229.16L394.56 223.64" stroke="#77AC30" stroke-width="0.6" fill="none"/><circle cx="391.80" cy="226.40" r="1.1" fill="#77AC30"/>
<path d="M401.10 234.40H408.90M405.00 230.50V238.30M402.24 231.64L407.76 237.16M402.24 237.16L407.76 231.64" stroke="#77AC30" stroke-width="0.6" fill="none"/><circle cx="405.00" cy="234.40" r="1.1" fill="#77AC30"/>
<path d="M414.30 362.70H422.10M418.20 358.80V366.60M415.44 359.94L420.96 365.46M415.44 365.46L420.96 359.94" stroke="#77AC30" stroke-width="0.6" fill="none"/><circle cx="418.20" cy="362.70" r="1.1" fill="#77AC30"/>
<path d="M427.50 366.70H435.30M431.40 362.80V370.60M428.64 363.94L434.16 369.46M428.64 369.46L434.16 363.94" stroke="#77AC30" stroke-width="0.6" fill="none"/><circle cx="431.40" cy="366.70" r="1.1" fill="#77AC30"/>
<path d="M440.70 370.40H448.50M444.60 366.50V374.30M441.84 367.64L447.36 373.16M441.84 373.16L447.36 367.64" stroke="#77AC30" stroke-width="0.6" fill="none"/><circle cx="444.60" cy="370.40" r="1.1" fill="#77AC30"/>
<path d="M453.90 375.30H461.70M457.80 371.40V379.20M455.04 372.54L460.56 378.06M455.04 378.06L460.56 372.54" stroke="#77AC30" stroke-width="0.6" fill="none"/><circle cx="457.80" cy="375.30" r="1.1" fill="#77AC30"/>
<path d="M467.10 380.60H474.90M471.00 376.70V384.50M468.24 377.84L473.76 383.36M468.24 383.36L473.76 377.84" stroke="#77AC30" stroke-width="0.6" fill="none"/><circle cx="471.00" cy="380.60" r="1.1" fill="#77AC30"/>
<path d="M480.30 386.80H488.10M484.20 382.90V390.70M481.44 384.04L486.96 389.56M481.44 389.56L486.96 384.04" stroke="#77AC30" stroke-width="0.6" fill="none"/><circle cx="484.20" cy="386.80" r="1.1" fill="#77AC30"/>
<path d="M493.50 392.70H501.30M497.40 388.80V396.60M494.64 389.94L500.16 395.46M494.64 395.46L500.16 389.94" stroke="#77AC30" stroke-width="0.6" fill="none"/><circle cx="497.40" cy="392.70" r="1.1" fill="#77AC30"/>
<path d="M506.70 399.10H514.50M510.60 395.20V403.00M507.84 396.34L513.36 401.86M507.84 401.86L513.36 396.34" stroke="#77AC30" stroke-width="0.6" fill="none"/><circle cx="510.60" cy="399.10" r="1.1" fill="#77AC30"/>
<path d="M519.90 405.50H527.70M523.80 401.60V409.40M521.04 402.74L526.56 408.26M521.04 408.26L526.56 402.74" stroke="#77AC30" stroke-width="0.6" fill="none"/><circle cx="523.80" cy="405.50" r="1.1" fill="#77AC30"/>
<path d="M533.10 411.50H540.90M537.00 407.60V415.40M534.24 408.74L539.76 414.26M534.24 414.26L539.76 408.74" stroke="#77AC30" stroke-width="0.6" fill="none"/><circle cx="537.00" cy="411.50" r="1.1" fill="#77AC30"/>
<path d="M546.30 417.20H554.10M550.20 413.30V421.10M547.44 414.44L552.96 419.96M547.44 419.96L552.96 414.44" stroke="#77AC30" stroke-width="0.6" fill="none"/><circle cx="550.20" cy="417.20" r="1.1" fill="#77AC30"/>
<path d="M559.50 422.70H567.30M563.40 418.80V426.60M560.64 419.94L566.16 425.46M560.64 425.46L566.16 419.94" stroke="#77AC30" stroke-width="0.6" fill="none"/><circle cx="563.40" cy="422.70" r="1.1" fill="#77AC30"/>
<path d="M572.70 427.60H580.50M576.60 423.70V431.50M573.84 424.84L579.36 430.36M573.84 430.36L579.36 424.84" stroke="#77AC30" stroke-width="0.6" fill="none"/><circle cx="576.60" cy="427.60" r="1.1" fill="#77AC30"/>
<path d="M585.90 432.10H593.70M589.80 428.20V436.00M587.04 429.34L592.56 434.86M587.04 434.86L592.56 429.34" stroke="#77AC30" stroke-width="0.6" fill="none"/><circle cx="589.80" cy="432.10" r="1.1" fill="#77AC30"/>
<path d="M599.10 436.00H606.90M603.00 432.10V439.90M600.24 433.24L605.76 438.76M600.24 438.76L605.76 433.24" stroke="#77AC30" stroke-width="0.6" fill="none"/><circle cx="603.00" cy="436.00" r="1.1" fill="#77AC30"/>
<path d="M612.30 439.20H620.10M616.20 435.30V443.10M613.44 436.44L618.96 441.96M613.44 441.96L618.96 436.44" stroke="#77AC30" stroke-width="0.6" fill="none"/><circle cx="616.20" cy="439.20" r="1.1" fill="#77AC30"/>
<path d="M625.50 442.00H633.30M629.40 438.10V445.90M626.64 439.24L632.16 444.76M626.64 444.76L632.16 439.24" stroke="#77AC30" stroke-width="0.6" fill="none"/><circle cx="629.40" cy="442.00" r="1.1" fill="#77AC30"/>
<path d="M638.70 444.10H646.50M642.60 440.20V448.00M639.84 441.34L645.36 446.86M639.84 446.86L645.36 441.34" stroke="#77AC30" stroke-width="0.6" fill="none"/><circle cx="642.60" cy="444.10" r="1.1" fill="#77AC30"/>
<path d="M651.90 445.80H659.70M655.80 441.90V449.70M653.04 443.04L658.56 448.56M653.04 448.56L658.56 443.04" stroke="#77AC30" stroke-width="0.6" fill="none"/><circle cx="655.80" cy="445.80" r="1.1" fill="#77AC30"/>
<path d="M665.10 447.34H672.90M669.00 443.44V451.24M666.24 444.58L671.76 450.10M666.24 450.10L671.76 444.58" stroke="#77AC30" stroke-width="0.6" fill="none"/><circle cx="669.00" cy="447.34" r="1.1" fill="#77AC30"/>
<path d="M678.30 448.53H686.10M682.20 444.63V452.43M679.44 445.77L684.96 451.29M679.44 451.29L684.96 445.77" stroke="#77AC30" stroke-width="0.6" fill="none"/><circle cx="682.20" cy="448.53" r="1.1" fill="#77AC30"/>
<path d="M691.50 449.49H699.30M695.40 445.59V453.39M692.64 446.73L698.16 452.25M692.64 452.25L698.16 446.73" stroke="#77AC30" stroke-width="0.6" fill="none"/><circle cx="695.40" cy="449.49" r="1.1" fill="#77AC30"/>
<path d="M704.70 450.27H712.50M708.60 446.37V454.17M705.84 447.51L711.36 453.03M705.84 453.03L711.36 447.51" stroke="#77AC30" stroke-width="0.6" fill="none"/><circle cx="708.60" cy="450.27" r="1.1" fill="#77AC30"/>
<path d="M717.90 450.95H725.70M721.80 447.05V454.85M719.04 448.19L724.56 453.71M719.04 453.71L724.56 448.19" stroke="#77AC30" stroke-width="0.6" fill="none"/><circle cx="721.80" cy="450.95" r="1.1" fill="#77AC30"/>
<path d="M731.10 451.48H738.90M735.00 447.58V455.38M732.24 448.73L737.76 454.24M732.24 454.24L737.76 448.73" stroke="#77AC30" stroke-width="0.6" fill="none"/><circle cx="735.00" cy="451.48" r="1.1" fill="#77AC30"/>
<path d="M744.30 451.91H752.10M748.20 448.01V455.81M745.44 449.15L750.96 454.66M745.44 454.66L750.96 449.15" stroke="#77AC30" stroke-width="0.6" fill="none"/><circle cx="748.20" cy="451.91" r="1.1" fill="#77AC30"/>
<path d="M757.50 452.24H765.30M761.40 448.34V456.14M758.64 449.48L764.16 455.00M758.64 455.00L764.16 449.48" stroke="#77AC30" stroke-width="0.6" fill="none"/><circle cx="761.40" cy="452.24" r="1.1" fill="#77AC30"/>
<path d="M770.70 452.51H778.50M774.60 448.61V456.41M771.84 449.75L777.36 455.26M771.84 455.26L777.36 449.75" stroke="#77AC30" stroke-width="0.6" fill="none"/><circle cx="774.60" cy="452.51" r="1.1" fill="#77AC30"/>
<path d="M783.90 452.71H791.70M787.80 448.81V456.61M785.04 449.96L790.56 455.47M785.04 455.47L790.56 449.96" stroke="#77AC30" stroke-width="0.6" fill="none"/><circle cx="787.80" cy="452.71" r="1.1" fill="#77AC30"/>
<path d="M797.10 452.88H804.90M801.00 448.98V456.78M798.24 450.12L803.76 455.64M798.24 455.64L803.76 450.12" stroke="#77AC30" stroke-width="0.6" fill="none"/><circle cx="801.00" cy="452.88" r="1.1" fill="#77AC30"/>
<path d="M810.30 453.01H818.10M814.20 449.11V456.91M811.44 450.25L816.96 455.77M811.44 455.77L816.96 450.25" stroke="#77AC30" stroke-width="0.6" fill="none"/><circle cx="814.20" cy="453.01" r="1.1" fill="#77AC30"/>
<path d="M823.50 453.11H831.30M827.40 449.21V457.01M824.64 450.36L830.16 455.87M824.64 455.87L830.16 450.36" stroke="#77AC30" stroke-width="0.6" fill="none"/><circle cx="827.40" cy="453.11" r="1.1" fill="#77AC30"/>
<path d="M836.70 453.19H844.50M840.60 449.29V457.09M837.84 450.44L843.36 455.95M837.84 455.95L843.36 450.44" stroke="#77AC30" stroke-width="0.6" fill="none"/><circle cx="840.60" cy="453.19" r="1.1" fill="#77AC30"/>
<path d="M849.90 453.26H857.70M853.80 449.36V457.16M851.04 450.50L856.56 456.02M851.04 456.02L856.56 450.50" stroke="#77AC30" stroke-width="0.6" fill="none"/><circle cx="853.80" cy="453.26" r="1.1" fill="#77AC30"/>
<polyline points="75.00,453.30 88.20,452.80 101.40,452.40 114.60,452.00 127.80,451.10 141.00,450.20 154.20,449.10 167.40,448.20 180.60,447.40 193.80,446.30 207.00,444.10 220.20,441.90 233.40,439.30 246.60,436.20 259.80,432.50 273.00,428.20 286.20,422.80 299.40,417.20 312.60,410.20 325.80,402.60 339.00,393.90 352.20,384.50 365.40,375.10 378.60,365.00 391.80,354.60 405.00,344.50 418.20,207.70 431.40,199.60 444.60,190.70 457.80,180.40 471.00,168.30 484.20,155.00 497.40,141.90 510.60,128.20 523.80,114.70 537.00,101.20 550.20,88.80 563.40,77.20 576.60,66.10 589.80,56.70 603.00,48.10 616.20,41.30 629.40,35.50 642.60,30.70 655.80,26.70 669.00,23.11 682.20,20.35 695.40,18.18 708.60,16.46 721.80,15.10 735.00,14.03 748.20,13.19 761.40,12.52 774.60,11.99 787.80,11.57 801.00,11.24 814.20,10.98 827.40,10.77 840.60,10.61 853.80,10.48" fill="none" stroke="#4DBEEE" stroke-width="0.7"/>
<path d="M71.10 453.30H78.90M75.00 449.40V457.20M72.24 450.54L77.76 456.06M72.24 456.06L77.76 450.54" stroke="#4DBEEE" stroke-width="0.6" fill="none"/><circle cx="75.00" cy="453.30" r="1.1" fill="#4DBEEE"/>
<path d="M84.30 452.80H92.10M88.20 448.90V456.70M85.44 450.04L90.96 455.56M85.44 455.56L90.96 450.04" stroke="#4DBEEE" stroke-width="0.6" fill="none"/><circle cx="88.20" cy="452.80" r="1.1" fill="#4DBEEE"/>
<path d="M97.50 452.40H105.30M101.40 448.50V456.30M98.64 449.64L104.16 455.16M98.64 455.16L104.16 449.64" stroke="#4DBEEE" stroke-width="0.6" fill="none"/><circle cx="101.40" cy="452.40" r="1.1" fill="#4DBEEE"/>
<path d="M110.70 452.00H118.50M114.60 448.10V455.90M111.84 449.24L117.36 454.76M111.84 454.76L117.36 449.24" stroke="#4DBEEE" stroke-width="0.6" fill="none"/><circle cx="114.60" cy="452.00" r="1.1" fill="#4DBEEE"/>
<path d="M123.90 451.10H131.70M127.80 447.20V455.00M125.04 448.34L130.56 453.86M125.04 453.86L130.56 448.34" stroke="#4DBEEE" stroke-width="0.6" fill="none"/><circle cx="127.80" cy="451.10" r="1.1" fill="#4DBEEE"/>
<path d="M137.10 450.20H144.90M141.00 446.30V454.10M138.24 447.44L143.76 452.96M138.24 452.96L143.76 447.44" stroke="#4DBEEE" stroke-width="0.6" fill="none"/><circle cx="141.00" cy="450.20" r="1.1" fill="#4DBEEE"/>
<path d="M150.30 449.10H158.10M154.20 445.20V453.00M151.44 446.34L156.96 451.86M151.44 451.86L156.96 446.34" stroke="#4DBEEE" stroke-width="0.6" fill="none"/><circle cx="154.20" cy="449.10" r="1.1" fill="#4DBEEE"/>
<path d="M163.50 448.20H171.30M167.40 444.30V452.10M164.64 445.44L170.16 450.96M164.64 450.96L170.16 445.44" stroke="#4DBEEE" stroke-width="0.6" fill="none"/><circle cx="167.40" cy="448.20" r="1.1" fill="#4DBEEE"/>
<path d="M176.70 447.40H184.50M180.60 443.50V451.30M177.84 444.64L183.36 450.16M177.84 450.16L183.36 444.64" stroke="#4DBEEE" stroke-width="0.6" fill="none"/><circle cx="180.60" cy="447.40" r="1.1" fill="#4DBEEE"/>
<path d="M189.90 446.30H197.70M193.80 442.40V450.20M191.04 443.54L196.56 449.06M191.04 449.06L196.56 443.54" stroke="#4DBEEE" stroke-width="0.6" fill="none"/><circle cx="193.80" cy="446.30" r="1.1" fill="#4DBEEE"/>
<path d="M203.10 444.10H210.90M207.00 440.20V448.00M204.24 441.34L209.76 446.86M204.24 446.86L209.76 441.34" stroke="#4DBEEE" stroke-width="0.6" fill="none"/><circle cx="207.00" cy="444.10" r="1.1" fill="#4DBEEE"/>
<path d="M216.30 441.90H224.10M220.20 438.00V445.80M217.44 439.14L222.96 444.66M217.44 444.66L222.96 439.14" stroke="#4DBEEE" stroke-width="0.6" fill="none"/><circle cx="220.20" cy="441.90" r="1.1" fill="#4DBEEE"/>
<path d="M229.50 439.30H237.30M233.40 435.40V443.20M230.64 436.54L236.16 442.06M230.64 442.06L236.16 436.54" stroke="#4DBEEE" stroke-width="0.6" fill="none"/><circle cx="233.40" cy="439.30" r="1.1" fill="#4DBEEE"/>
<path d="M242.70 436.20H250.50M246.60 432.30V440.10M243.84 433.44L249.36 438.96M243.84 438.96L249.36 433.44" stroke="#4DBEEE" stroke-width="0.6" fill="none"/><circle cx="246.60" cy="436.20" r="1.1" fill="#4DBEEE"/>
<path d="M255.90 432.50H263.70M259.80 428.60V436.40M257.04 429.74L262.56 435.26M257.04 435.26L262.56 429.74" stroke="#4DBEEE" stroke-width="0.6" fill="none"/><circle cx="259.80" cy="432.50" r="1.1" fill="#4DBEEE"/>
<path d="M269.10 428.20H276.90M273.00 424.30V432.10M270.24 425.44L275.76 430.96M270.24 430.96L275.76 425.44" stroke="#4DBEEE" stroke-width="0.6" fill="none"/><circle cx="273.00" cy="428.20" r="1.1" fill="#4DBEEE"/>
<path d="M282.30 422.80H290.10M286.20 418.90V426.70M283.44 420.04L288.96 425.56M283.44 425.56L288.96 420.04" stroke="#4DBEEE" stroke-width="0.6" fill="none"/><circle cx="286.20" cy="422.80" r="1.1" fill="#4DBEEE"/>
<path d="M295.50 417.20H303.30M299.40 413.30V421.10M296.64 414.44L302.16 419.96M296.64 419.96L302.16 414.44" stroke="#4DBEEE" stroke-width="0.6" fill="none"/><circle cx="299.40" cy="417.20" r="1.1" fill="#4DBEEE"/>
<path d="M308.70 410.20H316.50M312.60 406.30V414.10M309.84 407.44L315.36 412.96M309.84 412.96L315.36 407.44" stroke="#4DBEEE" stroke-width="0.6" fill="none"/><circle cx="312.60" cy="410.20" r="1.1" fill="#4DBEEE"/>
<path d="M321.90 402.60H329.70M325.80 398.70V406.50M323.04 399.84L328.56 405.36M323.04 405.36L328.56 399.84" stroke="#4DBEEE" stroke-width="0.6" fill="none"/><circle cx="325.80" cy="402.60" r="1.1" fill="#4DBEEE"/>
<path d="M335.10 393.90H342.90M339.00 390.00V397.80M336.24 391.14L341.76 396.66M336.24 396.66L341.76 391.14" stroke="#4DBEEE" stroke-width="0.6" fill="none"/><circle cx="339.00" cy="393.90" r="1.1" fill="#4DBEEE"/>
<path d="M348.30 384.50H356.10M352.20 380.60V388.40M349.44 381.74L354.96 387.26M349.44 387.26L354.96 381.74" stroke="#4DBEEE" stroke-width="0.6" fill="none"/><circle cx="352.20" cy="384.50" r="1.1" fill="#4DBEEE"/>
<path d="M361.50 375.10H369.30M365.40 371.20V379.00M362.64 372.34L368.16 377.86M362.64 377.86L368.16 372.34" stroke="#4DBEEE" stroke-width="0.6" fill="none"/><circle cx="365.40" cy="375.10" r="1.1" fill="#4DBEEE"/>
<path d="M374.70 365.00H382.50M378.60 361.10V368.90M375.84 362.24L381.36 367.76M375.84 367.76L381.36 362.24" stroke="#4DBEEE" stroke-width="0.6" fill="none"/><circle cx="378.60" cy="365.00" r="1.1" fill="#4DBEEE"/>
<path d="M387.90 354.60H395.70M391.80 350.70V358.50M389.04 351.84L394.56 357.36M389.04 357.36L394.56 351.84" stroke="#4DBEEE" stroke-width="0.6" fill="none"/><circle cx="391.80" cy="354.60" r="1.1" fill="#4DBEEE"/>
<path d="M401.10 344.50H408.90M405.00 340.60V348.40M402.24 341.74L407.76 347.26M402.24 347.26L407.76 341.74" stroke="#4DBEEE" stroke-width="0.6" fill="none"/><circle cx="405.00" cy="344.50" r="1.1" fill="#4DBEEE"/>
<path d="M414.30 207.70H422.10M418.20 203.80V211.60M415.44 204.94L420.96 210.46M415.44 210.46L420.96 204.94" stroke="#4DBEEE" stroke-width="0.6" fill="none"/><circle cx="418.20" cy="207.70" r="1.1" fill="#4DBEEE"/>
<path d="M427.50 199.60H435.30M431.40 195.70V203.50M428.64 196.84L434.16 202.36M428.64 202.36L434.16 196.84" stroke="#4DBEEE" stroke-width="0.6" fill="none"/><circle cx="431.40" cy="199.60" r="1.1" fill="#4DBEEE"/>
<path d="M440.70 190.70H448.50M444.60 186.80V194.60M441.84 187.94L447.36 193.46M441.84 193.46L447.36 187.94" stroke="#4DBEEE" stroke-width="0.6" fill="none"/><circle cx="444.60" cy="190.70" r="1.1" fill="#4DBEEE"/>
<path d="M453.90 180.40H461.70M457.80 176.50V184.30M455.04 177.64L460.56 183.16M455.04 183.16L460.56 177.64" stroke="#4DBEEE" stroke-width="0.6" fill="none"/><circle cx="457.80" cy="180.40" r="1.1" fill="#4DBEEE"/>
<path d="M467.10 168.30H474.90M471.00 164.40V172.20M468.24 165.54L473.76 171.06M468.24 171.06L473.76 165.54" stroke="#4DBEEE" stroke-width="0.6" fill="none"/><circle cx="471.00" cy="168.30" r="1.1" fill="#4DBEEE"/>
<path d="M480.30 155.00H488.10M484.20 151.10V158.90M481.44 152.24L486.96 157.76M481.44 157.76L486.96 152.24" stroke="#4DBEEE" stroke-width="0.6" fill="none"/><circle cx="484.20" cy="155.00" r="1.1" fill="#4DBEEE"/>
<path d="M493.50 141.90H501.30M497.40 138.00V145.80M494.64 139.14L500.16 144.66M494.64 144.66L500.16 139.14" stroke="#4DBEEE" stroke-width="0.6" fill="none"/><circle cx="497.40" cy="141.90" r="1.1" fill="#4DBEEE"/>
<path d="M506.70 128.20H514.50M510.60 124.30V132.10M507.84 125.44L513.36 130.96M507.84 130.96L513.36 125.44" stroke="#4DBEEE" stroke-width="0.6" fill="none"/><circle cx="510.60" cy="128.20" r="1.1" fill="#4DBEEE"/>
<path d="M519.90 114.70H527.70M523.80 110.80V118.60M521.04 111.94L526.56 117.46M521.04 117.46L526.56 111.94" stroke="#4DBEEE" stroke-width="0.6" fill="none"/><circle cx="523.80" cy="114.70" r="1.1" fill="#4DBEEE"/>
<path d="M533.10 101.20H540.90M537.00 97.30V105.10M534.24 98.44L539.76 103.96M534.24 103.96L539.76 98.44" stroke="#4DBEEE" stroke-width="0.6" fill="none"/><circle cx="537.00" cy="101.20" r="1.1" fill="#4DBEEE"/>
<path d="M546.30 88.80H554.10M550.20 84.90V92.70M547.44 86.04L552.96 91.56M547.44 91.56L552.96 86.04" stroke="#4DBEEE" stroke-width="0.6" fill="none"/><circle cx="550.20" cy="88.80" r="1.1" fill="#4DBEEE"/>
<path d="M559.50 77.20H567.30M563.40 73.30V81.10M560.64 74.44L566.16 79.96M560.64 79.96L566.16 74.44" stroke="#4DBEEE" stroke-width="0.6" fill="none"/><circle cx="563.40" cy="77.20" r="1.1" fill="#4DBEEE"/>
<path d="M572.70 66.10H580.50M576.60 62.20V70.00M573.84 63.34L579.36 68.86M573.84 68.86L579.36 63.34" stroke="#4DBEEE" stroke-width="0.6" fill="none"/><circle cx="576.60" cy="66.10" r="1.1" fill="#4DBEEE"/>
<path d="M585.90 56.70H593.70M589.80 52.80V60.60M587.04 53.94L592.56 59.46M587.04 59.46L592.56 53.94" stroke="#4DBEEE" stroke-width="0.6" fill="none"/><circle cx="589.80" cy="56.70" r="1.1" fill="#4DBEEE"/>
<path d="M599.10 48.10H606.90M603.00 44.20V52.00M600.24 45.34L605.76 50.86M600.24 50.86L605.76 45.34" stroke="#4DBEEE" stroke-width="0.6" fill="none"/><circle cx="603.00" cy="48.10" r="1.1" fill="#4DBEEE"/>
<path d="M612.30 41.30H620.10M616.20 37.40V45.20M613.44 38.54L618.96 44.06M613.44 44.06L618.96 38.54" stroke="#4DBEEE" stroke-width="0.6" fill="none"/><circle cx="616.20" cy="41.30" r="1.1" fill="#4DBEEE"/>
<path d="M625.50 35.50H633.30M629.40 31.60V39.40M626.64 32.74L632.16 38.26M626.64 38.26L632.16 32.74" stroke="#4DBEEE" stroke-width="0.6" fill="none"/><circle cx="629.40" cy="35.50" r="1.1" fill="#4DBEEE"/>
<path d="M638.70 30.70H646.50M642.60 26.80V34.60M639.84 27.94L645.36 33.46M639.84 33.46L645.36 27.94" stroke="#4DBEEE" stroke-width="0.6" fill="none"/><circle cx="642.60" cy="30.70" r="1.1" fill="#4DBEEE"/>
<path d="M651.90 26.70H659.70M655.80 22.80V30.60M653.04 23.94L658.56 29.46M653.04 29.46L658.56 23.94" stroke="#4DBEEE" stroke-width="0.6" fill="none"/><circle cx="655.80" cy="26.70" r="1.1" fill="#4DBEEE"/>
<path d="M665.10 23.11H672.90M669.00 19.21V27.01M666.24 20.35L671.76 25.86M666.24 25.86L671.76 20.35" stroke="#4DBEEE" stroke-width="0.6" fill="none"/><circle cx="669.00" cy="23.11" r="1.1" fill="#4DBEEE"/>
<path d="M678.30 20.35H686.10M682.20 16.45V24.25M679.44 17.60L684.96 23.11M679.44 23.11L684.96 17.60" stroke="#4DBEEE" stroke-width="0.6" fill="none"/><circle cx="682.20" cy="20.35" r="1.1" fill="#4DBEEE"/>
<path d="M691.50 18.18H699.30M695.40 14.28V22.08M692.64 15.42L698.16 20.94M692.64 20.94L698.16 15.42" stroke="#4DBEEE" stroke-width="0.6" fill="none"/><circle cx="695.40" cy="18.18" r="1.1" fill="#4DBEEE"/>
<path d="M704.70 16.46H712.50M708.60 12.56V20.36M705.84 13.70L711.36 19.22M705.84 19.22L711.36 13.70" stroke="#4DBEEE" stroke-width="0.6" fill="none"/><circle cx="708.60" cy="16.46" r="1.1" fill="#4DBEEE"/>
<path d="M717.90 15.10H725.70M721.80 11.20V19.00M719.04 12.35L724.56 17.86M719.04 17.86L724.56 12.35" stroke="#4DBEEE" stroke-width="0.6" fill="none"/><circle cx="721.80" cy="15.10" r="1.1" fill="#4DBEEE"/>
<path d="M731.10 14.03H738.90M735.00 10.13V17.93M732.24 11.28L737.76 16.79M732.24 16.79L737.76 11.28" stroke="#4DBEEE" stroke-width="0.6" fill="none"/><circle cx="735.00" cy="14.03" r="1.1" fill="#4DBEEE"/>
<path d="M744.30 13.19H752.10M748.20 9.29V17.09M745.44 10.43L750.96 15.94M745.44 15.94L750.96 10.43" stroke="#4DBEEE" stroke-width="0.6" fill="none"/><circle cx="748.20" cy="13.19" r="1.1" fill="#4DBEEE"/>
<path d="M757.50 12.52H765.30M761.40 8.62V16.42M758.64 9.76L764.16 15.27M758.64 15.27L764.16 9.76" stroke="#4DBEEE" stroke-width="0.6" fill="none"/><circle cx="761.40" cy="12.52" r="1.1" fill="#4DBEEE"/>
<path d="M770.70 11.99H778.50M774.60 8.09V15.89M771.84 9.23L777.36 14.75M771.84 14.75L777.36 9.23" stroke="#4DBEEE" stroke-width="0.6" fill="none"/><circle cx="774.60" cy="11.99" r="1.1" fill="#4DBEEE"/>
<path d="M783.90 11.57H791.70M787.80 7.67V15.47M785.04 8.81L790.56 14.33M785.04 14.33L790.56 8.81" stroke="#4DBEEE" stroke-width="0.6" fill="none"/><circle cx="787.80" cy="11.57" r="1.1" fill="#4DBEEE"/>
<path d="M797.10 11.24H804.90M801.00 7.34V15.14M798.24 8.48L803.76 14.00M798.24 14.00L803.76 8.48" stroke="#4DBEEE" stroke-width="0.6" fill="none"/><circle cx="801.00" cy="11.24" r="1.1" fill="#4DBEEE"/>
<path d="M810.30 10.98H818.10M814.20 7.08V14.88M811.44 8.22L816.96 13.74M811.44 13.74L816.96 8.22" stroke="#4DBEEE" stroke-width="0.6" fill="none"/><circle cx="814.20" cy="10.98" r="1.1" fill="#4DBEEE"/>
<path d="M823.50 10.77H831.30M827.40 6.87V14.67M824.64 8.02L830.16 13.53M824.64 13.53L830.16 8.02" stroke="#4DBEEE" stroke-width="0.6" fill="none"/><circle cx="827.40" cy="10.77" r="1.1" fill="#4DBEEE"/>
<path d="M836.70 10.61H844.50M840.60 6.71V14.51M837.84 7.85L843.36 13.37M837.84 13.37L843.36 7.85" stroke="#4DBEEE" stroke-width="0.6" fill="none"/><circle cx="840.60" cy="10.61" r="1.1" fill="#4DBEEE"/>
<path d="M849.90 10.48H857.70M853.80 6.58V14.38M851.04 7.73L856.56 13.24M851.04 13.24L856.56 7.73" stroke="#4DBEEE" stroke-width="0.6" fill="none"/><circle cx="853.80" cy="10.48" r="1.1" fill="#4DBEEE"/>
<rect x="463.0" y="186.5" width="389.5" height="170.0" fill="#fff"/>
<path d="M463.0 186.5H852.5V356.5H463.0" fill="none" stroke="#262626" stroke-width="1"/>
<path d="M463.0 186.0V357.0" fill="none" stroke="#262626" stroke-width="1.5"/>
<path d="M471 202.50H510.9" stroke="#0072BD" stroke-width="0.8"/>
<circle cx="490.90" cy="202.50" r="4.0" fill="none" stroke="#0072BD" stroke-width="0.85"/>
<path d="M471 230.14H510.9" stroke="#D95319" stroke-width="0.8"/>
<rect x="487.60" y="226.84" width="6.6" height="6.6" rx="0.8" fill="none" stroke="#D95319" stroke-width="0.7"/>
<path d="M471 257.78H510.9" stroke="#EDB120" stroke-width="0.8"/>
<path d="M490.90 252.48L494.80 257.78L490.90 263.08L487.00 257.78Z" fill="none" stroke="#EDB120" stroke-width="0.75"/>
<path d="M471 285.42H510.9" stroke="#7E2F8E" stroke-width="0.8"/>
<path d="M487.00 285.42H494.80M490.90 281.52V289.32M488.14 282.66L493.66 288.18M488.14 288.18L493.66 282.66" stroke="#7E2F8E" stroke-width="0.6" fill="none"/><circle cx="490.90" cy="285.42" r="1.1" fill="#7E2F8E"/>
<path d="M471 313.06H510.9" stroke="#77AC30" stroke-width="0.8"/>
<path d="M487.00 313.06H494.80M490.90 309.16V316.96M488.14 310.30L493.66 315.82M488.14 315.82L493.66 310.30" stroke="#77AC30" stroke-width="0.6" fill="none"/><circle cx="490.90" cy="313.06" r="1.1" fill="#77AC30"/>
<path d="M471 340.70H510.9" stroke="#4DBEEE" stroke-width="0.8"/>
<path d="M487.00 340.70H494.80M490.90 336.80V344.60M488.14 337.94L493.66 343.46M488.14 343.46L493.66 337.94" stroke="#4DBEEE" stroke-width="0.6" fill="none"/><circle cx="490.90" cy="340.70" r="1.1" fill="#4DBEEE"/>
<g style="filter:opacity(1)" font-family="Liberation Sans, sans-serif" font-size="20.5" fill="#000"><text x="515.5" y="209.80" textLength="300.17" lengthAdjust="spacing">actual component content of Ce</text><text x="515.5" y="237.44" textLength="292.56" lengthAdjust="spacing">actual component content of Pr</text><text x="515.5" y="265.08" textLength="299.87" lengthAdjust="spacing">actual component content of Nd</text><text x="515.5" y="292.72" textLength="327.47" lengthAdjust="spacing">calculate component content of Ce</text><text x="515.5" y="320.36" textLength="319.47" lengthAdjust="spacing">calculate component content of Pr</text><text x="515.5" y="348.00" textLength="321.18" lengthAdjust="spacing">calculate component content ofNd</text></g>
</svg></body></html>
